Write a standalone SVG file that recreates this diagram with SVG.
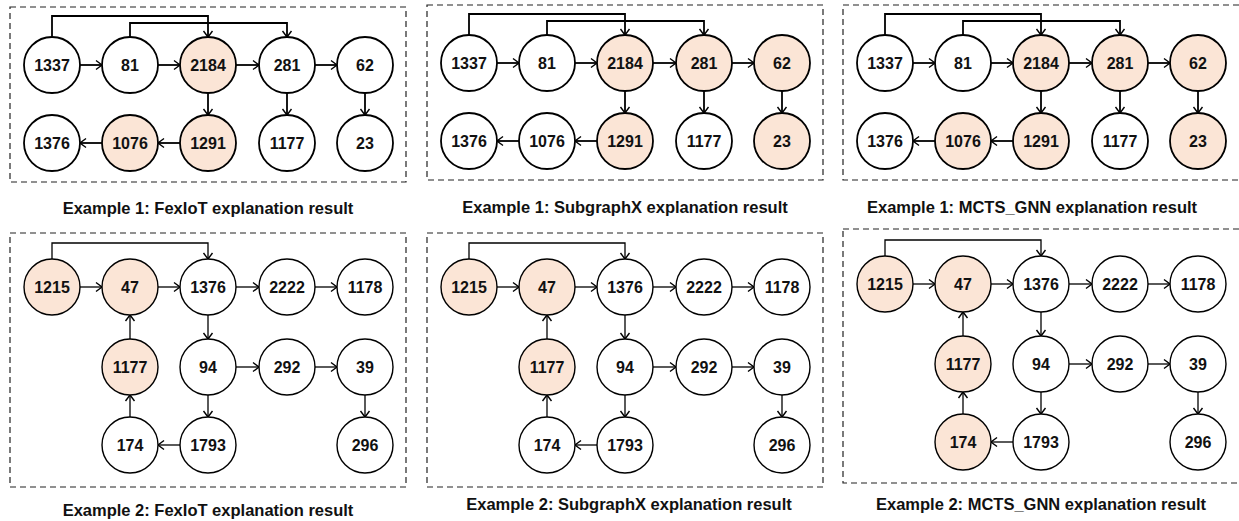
<svg xmlns="http://www.w3.org/2000/svg" width="1239" height="521" viewBox="0 0 1239 521">
  <style>
    .frame { fill: none; stroke: #222; stroke-width: 1.2; stroke-dasharray: 6 4; }
    .node circle { fill: #ffffff; stroke: #000; }
    .node.hit circle { fill: #fbe5d6; }
    .top .node circle { stroke-width: 1.8; }
    .bot .node circle { stroke-width: 1.4; }
    .node text { font-family: "Liberation Sans", Arial, sans-serif; font-weight: bold; font-size: 16px; fill: #111; text-anchor: middle; dominant-baseline: central; }
    .edges { fill: none; stroke: #000; marker-end: url(#arrow); }
    .top .edges { stroke-width: 1.8; }
    .bot .edges { stroke-width: 1.3; }
    .caption { font-family: "Liberation Sans", Arial, sans-serif; font-weight: bold; font-size: 16.5px; fill: #111; text-anchor: middle; }
  </style>
  <defs>
    <marker id="arrow" viewBox="-8 -6 10 12" refX="0" refY="0" markerWidth="10" markerHeight="12" markerUnits="userSpaceOnUse" orient="auto">
      <path d="M-6,-4.5 L0,0 L-6,4.5" fill="none" stroke="#000" stroke-width="1.4"/>
    </marker>
    <!-- Example 1 graph edges (local coordinates) -->
    <g id="edges1">
      <path d="M80 65 H102"/>
      <path d="M158 65 H180"/>
      <path d="M236 65 H259"/>
      <path d="M315 65 H337"/>
      <path d="M52 37 V16 H208 V37"/>
      <path d="M130 37 V23 H287 V37"/>
      <path d="M208 93 V115"/>
      <path d="M287 93 V115"/>
      <path d="M365 93 V115"/>
      <path d="M180 143 H158"/>
      <path d="M102 143 H80"/>
    </g>
    <!-- Example 2 graph edges (local coordinates) -->
    <g id="edges2">
      <path d="M80 287 H102"/>
      <path d="M158 287 H180"/>
      <path d="M236 287 H259"/>
      <path d="M315 287 H337"/>
      <path d="M52 259 V243 H208 V259"/>
      <path d="M208 315 V339"/>
      <path d="M236 367 H259"/>
      <path d="M315 367 H337"/>
      <path d="M365 395 V417"/>
      <path d="M208 395 V417"/>
      <path d="M180 445 H158"/>
      <path d="M130 417 V395"/>
      <path d="M130 339 V315"/>
    </g>
  </defs>

  <!-- Example 1: FexIoT -->
  <g id="panel-1" class="top">
    <rect class="frame" x="10" y="7" width="396" height="175"/>
    <g class="edges" id="connectors-1"><use href="#edges1"/></g>
    <g id="p1-n1337" class="node"><circle cx="52" cy="65" r="28"/><text x="52" y="65">1337</text></g>
    <g id="p1-n81" class="node"><circle cx="130" cy="65" r="28"/><text x="130" y="65">81</text></g>
    <g id="p1-n2184" class="node hit"><circle cx="208" cy="65" r="28"/><text x="208" y="65">2184</text></g>
    <g id="p1-n281" class="node"><circle cx="287" cy="65" r="28"/><text x="287" y="65">281</text></g>
    <g id="p1-n62" class="node"><circle cx="365" cy="65" r="28"/><text x="365" y="65">62</text></g>
    <g id="p1-n1376" class="node"><circle cx="52" cy="143" r="28"/><text x="52" y="143">1376</text></g>
    <g id="p1-n1076" class="node hit"><circle cx="130" cy="143" r="28"/><text x="130" y="143">1076</text></g>
    <g id="p1-n1291" class="node hit"><circle cx="208" cy="143" r="28"/><text x="208" y="143">1291</text></g>
    <g id="p1-n1177" class="node"><circle cx="287" cy="143" r="28"/><text x="287" y="143">1177</text></g>
    <g id="p1-n23" class="node"><circle cx="365" cy="143" r="28"/><text x="365" y="143">23</text></g>
  </g>

  <!-- Example 1: SubgraphX -->
  <g id="panel-2" class="top" transform="translate(417,-2)">
    <rect class="frame" x="10" y="7" width="396" height="175"/>
    <g class="edges" id="connectors-2"><use href="#edges1"/></g>
    <g id="p2-n1337" class="node"><circle cx="52" cy="65" r="28"/><text x="52" y="65">1337</text></g>
    <g id="p2-n81" class="node"><circle cx="130" cy="65" r="28"/><text x="130" y="65">81</text></g>
    <g id="p2-n2184" class="node hit"><circle cx="208" cy="65" r="28"/><text x="208" y="65">2184</text></g>
    <g id="p2-n281" class="node hit"><circle cx="287" cy="65" r="28"/><text x="287" y="65">281</text></g>
    <g id="p2-n62" class="node hit"><circle cx="365" cy="65" r="28"/><text x="365" y="65">62</text></g>
    <g id="p2-n1376" class="node"><circle cx="52" cy="143" r="28"/><text x="52" y="143">1376</text></g>
    <g id="p2-n1076" class="node"><circle cx="130" cy="143" r="28"/><text x="130" y="143">1076</text></g>
    <g id="p2-n1291" class="node hit"><circle cx="208" cy="143" r="28"/><text x="208" y="143">1291</text></g>
    <g id="p2-n1177" class="node"><circle cx="287" cy="143" r="28"/><text x="287" y="143">1177</text></g>
    <g id="p2-n23" class="node hit"><circle cx="365" cy="143" r="28"/><text x="365" y="143">23</text></g>
  </g>

  <!-- Example 1: MCTS_GNN -->
  <g id="panel-3" class="top" transform="translate(833,-2)">
    <rect class="frame" x="10" y="7" width="410" height="175"/>
    <g class="edges" id="connectors-3"><use href="#edges1"/></g>
    <g id="p3-n1337" class="node"><circle cx="52" cy="65" r="28"/><text x="52" y="65">1337</text></g>
    <g id="p3-n81" class="node"><circle cx="130" cy="65" r="28"/><text x="130" y="65">81</text></g>
    <g id="p3-n2184" class="node hit"><circle cx="208" cy="65" r="28"/><text x="208" y="65">2184</text></g>
    <g id="p3-n281" class="node hit"><circle cx="287" cy="65" r="28"/><text x="287" y="65">281</text></g>
    <g id="p3-n62" class="node hit"><circle cx="365" cy="65" r="28"/><text x="365" y="65">62</text></g>
    <g id="p3-n1376" class="node"><circle cx="52" cy="143" r="28"/><text x="52" y="143">1376</text></g>
    <g id="p3-n1076" class="node hit"><circle cx="130" cy="143" r="28"/><text x="130" y="143">1076</text></g>
    <g id="p3-n1291" class="node hit"><circle cx="208" cy="143" r="28"/><text x="208" y="143">1291</text></g>
    <g id="p3-n1177" class="node"><circle cx="287" cy="143" r="28"/><text x="287" y="143">1177</text></g>
    <g id="p3-n23" class="node hit"><circle cx="365" cy="143" r="28"/><text x="365" y="143">23</text></g>
  </g>

  <!-- Example 2: FexIoT -->
  <g id="panel-4" class="bot">
    <rect class="frame" x="10" y="233" width="396" height="254"/>
    <g class="edges" id="connectors-4"><use href="#edges2"/></g>
    <g id="p4-n1215" class="node hit"><circle cx="52" cy="287" r="28"/><text x="52" y="287">1215</text></g>
    <g id="p4-n47" class="node hit"><circle cx="130" cy="287" r="28"/><text x="130" y="287">47</text></g>
    <g id="p4-n1376" class="node"><circle cx="208" cy="287" r="28"/><text x="208" y="287">1376</text></g>
    <g id="p4-n2222" class="node"><circle cx="287" cy="287" r="28"/><text x="287" y="287">2222</text></g>
    <g id="p4-n1178" class="node"><circle cx="365" cy="287" r="28"/><text x="365" y="287">1178</text></g>
    <g id="p4-n1177" class="node hit"><circle cx="130" cy="367" r="28"/><text x="130" y="367">1177</text></g>
    <g id="p4-n94" class="node"><circle cx="208" cy="367" r="28"/><text x="208" y="367">94</text></g>
    <g id="p4-n292" class="node"><circle cx="287" cy="367" r="28"/><text x="287" y="367">292</text></g>
    <g id="p4-n39" class="node"><circle cx="365" cy="367" r="28"/><text x="365" y="367">39</text></g>
    <g id="p4-n174" class="node"><circle cx="130" cy="445" r="28"/><text x="130" y="445">174</text></g>
    <g id="p4-n1793" class="node"><circle cx="208" cy="445" r="28"/><text x="208" y="445">1793</text></g>
    <g id="p4-n296" class="node"><circle cx="365" cy="445" r="28"/><text x="365" y="445">296</text></g>
  </g>

  <!-- Example 2: SubgraphX -->
  <g id="panel-5" class="bot" transform="translate(417,0)">
    <rect class="frame" x="10" y="233" width="396" height="254"/>
    <g class="edges" id="connectors-5"><use href="#edges2"/></g>
    <g id="p5-n1215" class="node hit"><circle cx="52" cy="287" r="28"/><text x="52" y="287">1215</text></g>
    <g id="p5-n47" class="node hit"><circle cx="130" cy="287" r="28"/><text x="130" y="287">47</text></g>
    <g id="p5-n1376" class="node"><circle cx="208" cy="287" r="28"/><text x="208" y="287">1376</text></g>
    <g id="p5-n2222" class="node"><circle cx="287" cy="287" r="28"/><text x="287" y="287">2222</text></g>
    <g id="p5-n1178" class="node"><circle cx="365" cy="287" r="28"/><text x="365" y="287">1178</text></g>
    <g id="p5-n1177" class="node hit"><circle cx="130" cy="367" r="28"/><text x="130" y="367">1177</text></g>
    <g id="p5-n94" class="node"><circle cx="208" cy="367" r="28"/><text x="208" y="367">94</text></g>
    <g id="p5-n292" class="node"><circle cx="287" cy="367" r="28"/><text x="287" y="367">292</text></g>
    <g id="p5-n39" class="node"><circle cx="365" cy="367" r="28"/><text x="365" y="367">39</text></g>
    <g id="p5-n174" class="node"><circle cx="130" cy="445" r="28"/><text x="130" y="445">174</text></g>
    <g id="p5-n1793" class="node"><circle cx="208" cy="445" r="28"/><text x="208" y="445">1793</text></g>
    <g id="p5-n296" class="node"><circle cx="365" cy="445" r="28"/><text x="365" y="445">296</text></g>
  </g>

  <!-- Example 2: MCTS_GNN -->
  <g id="panel-6" class="bot" transform="translate(833,-3)">
    <rect class="frame" x="10" y="232" width="410" height="254"/>
    <g class="edges" id="connectors-6"><use href="#edges2"/></g>
    <g id="p6-n1215" class="node hit"><circle cx="52" cy="287" r="28"/><text x="52" y="287">1215</text></g>
    <g id="p6-n47" class="node hit"><circle cx="130" cy="287" r="28"/><text x="130" y="287">47</text></g>
    <g id="p6-n1376" class="node"><circle cx="208" cy="287" r="28"/><text x="208" y="287">1376</text></g>
    <g id="p6-n2222" class="node"><circle cx="287" cy="287" r="28"/><text x="287" y="287">2222</text></g>
    <g id="p6-n1178" class="node"><circle cx="365" cy="287" r="28"/><text x="365" y="287">1178</text></g>
    <g id="p6-n1177" class="node hit"><circle cx="130" cy="367" r="28"/><text x="130" y="367">1177</text></g>
    <g id="p6-n94" class="node"><circle cx="208" cy="367" r="28"/><text x="208" y="367">94</text></g>
    <g id="p6-n292" class="node"><circle cx="287" cy="367" r="28"/><text x="287" y="367">292</text></g>
    <g id="p6-n39" class="node"><circle cx="365" cy="367" r="28"/><text x="365" y="367">39</text></g>
    <g id="p6-n174" class="node hit"><circle cx="130" cy="445" r="28"/><text x="130" y="445">174</text></g>
    <g id="p6-n1793" class="node"><circle cx="208" cy="445" r="28"/><text x="208" y="445">1793</text></g>
    <g id="p6-n296" class="node"><circle cx="365" cy="445" r="28"/><text x="365" y="445">296</text></g>
  </g>

  <!-- Captions -->
  <g id="captions">
    <text class="caption" x="208" y="214">Example 1: FexIoT explanation result</text>
    <text class="caption" x="625" y="213">Example 1: SubgraphX explanation result</text>
    <text class="caption" x="1032" y="213">Example 1: MCTS_GNN explanation result</text>
    <text class="caption" x="208" y="516">Example 2: FexIoT explanation result</text>
    <text class="caption" x="629" y="510">Example 2: SubgraphX explanation result</text>
    <text class="caption" x="1041" y="510">Example 2: MCTS_GNN explanation result</text>
  </g>
</svg>
